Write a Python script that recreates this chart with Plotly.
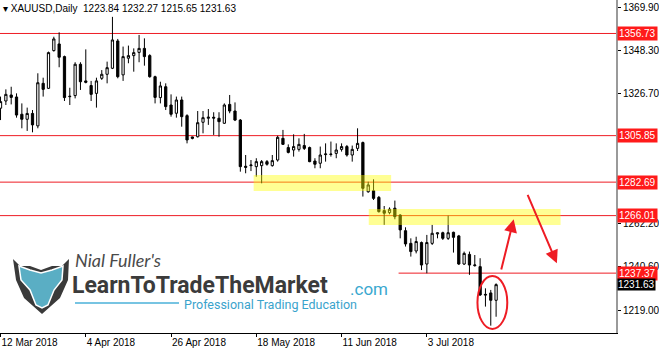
import plotly.graph_objects as go

# ---------------- data (XAUUSD daily, bar index 0 = 12 Mar 2018) ----------------
opens = [1319.5, 1323.1, 1326.1, 1325.1, 1316.5, 1314.0, 1316.9, 1310.7, 1331.9, 1329.4,
         1348.2, 1351.5, 1345.2, 1325.5, 1325.8, 1341.4, 1333.1, 1330.8, 1326.9, 1334.4,
         1336.4, 1339.4, 1353.0, 1336.1, 1344.4, 1345.7, 1347.3, 1349.3, 1345.7, 1335.2,
         1324.8, 1330.2, 1321.1, 1317.0, 1323.6, 1315.8, 1305.2, 1305.3, 1312.5, 1314.5,
         1315.0, 1314.5, 1312.0, 1321.4, 1318.1, 1313.6, 1290.6, 1290.9, 1290.4, 1290.9,
         1292.9, 1290.9, 1293.7, 1304.5, 1299.9, 1298.7, 1299.0, 1300.9, 1299.9, 1293.2,
         1292.1, 1296.4, 1296.7, 1297.0, 1299.0, 1300.4, 1296.2, 1299.5, 1302.4, 1277.9,
         1278.4, 1275.1, 1268.5, 1267.5, 1269.7, 1266.3, 1258.5, 1252.2, 1248.4, 1252.6,
         1241.9, 1252.2, 1256.9, 1257.5, 1254.7, 1257.7, 1255.9, 1241.9, 1246.7, 1241.1,
         1240.6, 1226.8, 1227.5, 1223.84]
highs = [1325.3, 1328.9, 1330.2, 1326.9, 1321.9, 1319.8, 1318.6, 1336.9, 1334.7, 1347.7,
         1355.1, 1357.3, 1345.7, 1329.7, 1342.4, 1342.4, 1348.8, 1333.1, 1334.7, 1338.5,
         1342.7, 1365.0, 1354.0, 1350.2, 1350.7, 1349.3, 1356.0, 1354.3, 1346.4, 1335.7,
         1332.7, 1331.9, 1326.4, 1325.3, 1325.3, 1316.5, 1305.3, 1318.1, 1318.1, 1319.1,
         1317.5, 1317.5, 1321.9, 1326.1, 1322.4, 1314.1, 1296.2, 1293.7, 1294.6, 1293.7,
         1293.7, 1296.2, 1305.8, 1308.7, 1301.5, 1306.5, 1304.5, 1306.7, 1300.4, 1294.6,
         1300.4, 1302.0, 1302.9, 1302.0, 1302.0, 1301.2, 1300.9, 1309.5, 1302.9, 1282.9,
         1284.1, 1275.8, 1270.8, 1270.1, 1273.5, 1266.7, 1260.2, 1254.7, 1255.5, 1253.1,
         1256.4, 1261.4, 1257.5, 1258.0, 1266.0, 1258.0, 1256.4, 1248.1, 1248.1, 1246.4,
         1244.8, 1229.8, 1229.0, 1232.27]
lows = [1313.6, 1321.1, 1321.4, 1314.8, 1309.5, 1308.2, 1307.5, 1309.5, 1325.3, 1329.1,
        1347.7, 1339.9, 1323.1, 1321.1, 1324.4, 1328.6, 1331.9, 1323.1, 1319.8, 1333.6,
        1331.9, 1339.0, 1334.4, 1333.1, 1341.9, 1337.7, 1342.4, 1340.7, 1334.7, 1321.9,
        1321.9, 1318.6, 1315.3, 1314.8, 1310.3, 1302.0, 1304.0, 1304.9, 1307.0, 1311.2,
        1306.2, 1305.3, 1311.7, 1317.0, 1313.1, 1287.9, 1287.1, 1288.2, 1285.4, 1282.1,
        1290.9, 1290.4, 1292.9, 1301.2, 1297.0, 1295.4, 1297.9, 1298.7, 1292.6, 1289.6,
        1289.6, 1292.9, 1295.4, 1294.6, 1297.9, 1295.4, 1292.9, 1298.2, 1275.5, 1277.4,
        1273.8, 1267.5, 1261.4, 1266.7, 1264.2, 1254.7, 1250.6, 1245.6, 1247.2, 1238.9,
        1237.3, 1251.4, 1254.7, 1253.9, 1253.9, 1247.6, 1241.4, 1241.4, 1236.5, 1240.6,
        1226.0, 1220.7, 1211.2, 1215.65]
closes = [1322.8, 1326.4, 1324.9, 1316.1, 1314.0, 1316.9, 1311.2, 1332.2, 1328.9, 1347.2,
          1354.0, 1344.9, 1324.8, 1325.3, 1341.4, 1332.7, 1332.4, 1326.4, 1333.1, 1336.4,
          1339.7, 1353.5, 1335.2, 1345.2, 1345.7, 1347.2, 1349.3, 1345.2, 1335.2, 1324.9,
          1330.6, 1320.3, 1316.5, 1323.6, 1315.3, 1303.7, 1304.5, 1312.3, 1314.8, 1315.0,
          1314.6, 1312.8, 1321.1, 1318.1, 1313.6, 1290.4, 1290.1, 1291.2, 1292.9, 1292.9,
          1291.6, 1293.4, 1305.0, 1301.5, 1297.5, 1300.4, 1301.5, 1299.5, 1292.9, 1291.6,
          1296.2, 1296.7, 1296.5, 1298.7, 1300.4, 1296.2, 1299.0, 1302.0, 1279.6, 1281.3,
          1274.6, 1268.0, 1267.2, 1269.2, 1265.5, 1258.9, 1251.9, 1248.1, 1253.1, 1241.4,
          1252.6, 1257.2, 1257.4, 1254.7, 1257.5, 1255.2, 1241.9, 1247.2, 1241.4, 1241.4,
          1226.5, 1226.5, 1223.84, 1231.63]
bar_index = list(range(len(opens)))

date_tick_index = [0, 16, 32, 48, 64, 80]
date_tick_labels = ["12 Mar 2018", "4 Apr 2018", "26 Apr 2018", "18 May 2018", "11 Jun 2018", "3 Jul 2018"]

price_ticks = [1219.00, 1240.60, 1262.20, 1326.70, 1348.30, 1369.90]

levels = [1356.73, 1305.85, 1282.69, 1266.01]
support_level = 1237.37
support_start_index = 74.7
current_price = 1231.63

zones = [  # (start index, end index, low price, high price)
    (47.5, 73.3, 1278.3, 1286.25),
    (69.1, 105.1, 1261.35, 1269.3),
]

header = "XAUUSD,Daily  1223.84 1232.27 1215.65 1231.63"

X_RANGE = [-0.1, 115.5]
Y_RANGE = [1207.55, 1373.4]
RED = "#ee1c24"
FONT = "Liberation Sans"

fig = go.Figure()
fig.add_trace(go.Candlestick(
    x=bar_index, open=opens, high=highs, low=lows, close=closes,
    increasing=dict(line=dict(color="black", width=1), fillcolor="white"),
    decreasing=dict(line=dict(color="black", width=1), fillcolor="black"),
    whiskerwidth=0, showlegend=False, hoverinfo="skip",
))

shapes = []
for lv in levels:
    shapes.append(dict(type="line", xref="paper", yref="y", x0=0, x1=1, y0=lv, y1=lv,
                       line=dict(color=RED, width=1), layer="below"))
shapes.append(dict(type="line", xref="x", yref="y", x0=support_start_index, x1=X_RANGE[1],
                   y0=support_level, y1=support_level, line=dict(color=RED, width=1), layer="below"))
for (x0, x1, y0, y1) in zones:
    shapes.append(dict(type="rect", xref="x", yref="y", x0=x0, x1=x1, y0=y0, y1=y1,
                       fillcolor="rgba(255,255,0,0.42)", line=dict(width=0), layer="above"))
# circle around last bars
shapes.append(dict(type="circle", xref="x", yref="y", x0=89.5, x1=95.1, y0=1209.6, y1=1236.0,
                   line=dict(color=RED, width=2)))

# ---- watermark logo (decorative, pixel -> paper helpers) ----
PW, PH = 616.0, 333.0
def px(v):
    return v / PW
def py(v):
    return 1 - v / PH
def path(points):
    return "M " + " L ".join(f"{px(a):.4f},{py(b):.4f}" for a, b in points) + " Z"

shield = [(13, 259), (20, 266), (30, 266), (41, 270), (52, 266), (62, 266), (69, 259),
          (68, 280), (60, 298), (42, 314), (24, 298), (16, 280)]
inner = [(19, 266), (30, 270), (41, 273), (52, 270), (63, 266), (62, 280), (54, 290),
         (48, 305), (42, 308), (36, 305), (30, 290), (21, 280)]
shapes.append(dict(type="path", xref="paper", yref="paper", path=path(shield),
                   fillcolor="#3a3a3a", line=dict(width=0)))
shapes.append(dict(type="path", xref="paper", yref="paper", path=path(inner),
                   fillcolor="#5aaec4", line=dict(color="white", width=1.5)))
shapes.append(dict(type="line", xref="paper", yref="paper", x0=px(75), x1=px(179),
                   y0=py(303), y1=py(303), line=dict(color="#4ab0d8", width=1.5)))

annotations = []
# header
annotations.append(dict(xref="paper", yref="paper", x=px(1), y=py(1), xanchor="left", yanchor="top",
                        text="▾ " + header, showarrow=False,
                        font=dict(family=FONT, size=10, color="black")))
# level labels on price axis
for lv in levels + [support_level]:
    annotations.append(dict(xref="paper", yref="y", x=1, y=lv, xanchor="left", yanchor="middle",
                            xshift=1, text=f"{lv:.2f}", showarrow=False, bgcolor="#ff1a1a",
                            borderpad=1, font=dict(family=FONT, size=10, color="white")))
annotations.append(dict(xref="paper", yref="y", x=1, y=current_price, xanchor="left", yanchor="middle",
                        xshift=1, text=f"{current_price:.2f}", showarrow=False, bgcolor="black",
                        borderpad=0, font=dict(family=FONT, size=10, color="white")))
# arrows
annotations.append(dict(xref="x", yref="y", axref="x", ayref="y", x=96.3, y=1264.2, ax=93.9, ay=1238.4,
                        showarrow=True, arrowhead=2, arrowsize=1.3, arrowwidth=2, arrowcolor=RED, text=""))
annotations.append(dict(xref="x", yref="y", axref="x", ayref="y", x=104.4, y=1242.3, ax=98.8, ay=1277.1,
                        showarrow=True, arrowhead=2, arrowsize=1.3, arrowwidth=2, arrowcolor=RED, text=""))
# watermark texts
annotations.append(dict(xref="paper", yref="paper", x=px(73), y=py(260), xanchor="left", yanchor="middle",
                        text="<i>Nial Fuller's</i>", showarrow=False,
                        font=dict(family="Lato", size=18, color="#4a4a4a")))
annotations.append(dict(xref="paper", yref="paper", x=px(70), y=py(285.5), xanchor="left", yanchor="middle",
                        text="<b>LearnToTradeTheMarket</b>", showarrow=False,
                        font=dict(family="Roboto", size=23, color="#3b3b3b")))
annotations.append(dict(xref="paper", yref="paper", x=px(348), y=py(289), xanchor="left", yanchor="middle",
                        text=".com", showarrow=False,
                        font=dict(family="Roboto", size=17, color="#3aa8cf")))
annotations.append(dict(xref="paper", yref="paper", x=px(182), y=py(304), xanchor="left", yanchor="middle",
                        text="Professional Trading Education", showarrow=False,
                        font=dict(family="Roboto", size=12.5, color="#3aa3cc")))

fig.update_layout(
    width=659, height=349,
    margin=dict(l=0, r=43, t=0, b=16, pad=0),
    paper_bgcolor="white", plot_bgcolor="white",
    shapes=shapes, annotations=annotations,
    boxgap=0.4,
    showlegend=False,
    xaxis=dict(range=X_RANGE, rangeslider=dict(visible=False), showgrid=False, zeroline=False,
               tickmode="array", tickvals=date_tick_index, ticktext=date_tick_labels,
               ticks="outside", ticklen=3, tickcolor="black", ticklabelposition="outside right",
               showline=True, linecolor="black", linewidth=1, automargin=False,
               tickfont=dict(family=FONT, size=10, color="black")),
    yaxis=dict(range=Y_RANGE, side="right", showgrid=False, zeroline=False,
               tickmode="array", tickvals=price_ticks, ticktext=[f"{v:.2f}" for v in price_ticks],
               ticks="outside", ticklen=3, tickcolor="black",
               showline=True, linecolor="#9a9a9a", linewidth=2, automargin=False,
               tickfont=dict(family=FONT, size=10, color="black")),
)

fig.write_html("out.html")
